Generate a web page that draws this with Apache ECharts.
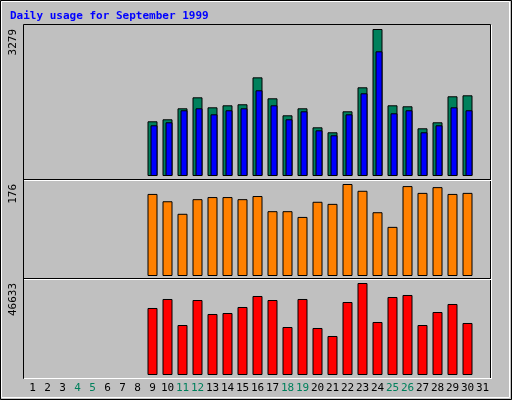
<!DOCTYPE html>
<html>
<head>
<meta charset="utf-8">
<script src="https://cdn.jsdelivr.net/npm/echarts@6/dist/echarts.min.js"></script>
<style>
  html, body { margin: 0; padding: 0; background: #c0c0c0; }
  #chart { width: 512px; height: 400px; }
</style>
</head>
<body>
<div id="chart"></div>
<script>
// days of September 1999, weekend days drawn in green
var days = [];
for (var d = 1; d <= 31; d++) days.push(String(d));
var weekends = ['4', '5', '11', '12', '18', '19', '25', '26'];

// hits and files (top panel)
var hits = [null,null,null,null,null,null,null,null,
    1220,1265,1510,1755,1532,1577,1600,2200,1733,1354,1510,1086,975,1443,1978,3279,1577,1555,1064,1198,1778,1800,null];
var files = [null,null,null,null,null,null,null,null,
    1131,1198,1466,1510,1376,1466,1510,1912,1577,1265,1443,1019,908,1376,1845,2781,1399,1466,975,1131,1532,1466,null];
// sites (middle panel)
var sites = [null,null,null,null,null,null,null,null,
    157,143,119,147,151,151,147,153,124,124,113,142,138,176,163,122,94,172,159,170,157,159,null];
// kbytes (bottom panel)
var kbytes = [null,null,null,null,null,null,null,null,
    33961,38523,25344,38016,30920,31426,34468,40044,38016,24330,38523,23824,19769,37002,46633,26865,39537,40551,25344,31933,35989,26358,null];

var maxHits = 3279, maxSites = 176, maxKb = 46633;

var chart = echarts.init(document.getElementById('chart'));

function yAx(grid, max) {
    return {
        gridIndex: grid, type: 'value', min: 0, max: max, interval: max,
        splitLine: { show: false }, axisLine: { show: false }, axisTick: { show: false },
        axisLabel: {
            rotate: 90, align: 'right', margin: 6,
            fontFamily: 'DejaVu Sans Mono', fontSize: 11, color: '#000',
            formatter: function (v) { return v === max ? String(max) : ''; }
        }
    };
}
function xAx(grid, show) {
    return {
        gridIndex: grid, type: 'category', data: days,
        axisLine: { show: false }, axisTick: { show: false },
        axisLabel: {
            show: show, interval: 0, margin: 8,
            fontFamily: 'DejaVu Sans Mono', fontSize: 11,
            formatter: function (v) { return weekends.indexOf(v) >= 0 ? '{w|' + v + '}' : v; },
            color: '#000',
            rich: { w: { color: '#00805c', fontFamily: 'DejaVu Sans Mono', fontSize: 11 } }
        }
    };
}
var barBorder = { borderColor: '#000', borderWidth: 1 };

var option = {
    backgroundColor: '#c0c0c0',
    animation: false,
    title: {
        text: 'Daily usage for September 1999', left: 5, top: 6,
        textStyle: { color: '#0000ff', fontFamily: 'DejaVu Sans Mono', fontSize: 11, fontWeight: 'bold' }
    },
    grid: [
        { left: 25, width: 465, top: 29, height: 147 },
        { left: 26.5, width: 465, top: 29, height: 147 },
        { left: 25, width: 465, top: 184, height: 92 },
        { left: 25, width: 465, top: 283, height: 92 }
    ],
    xAxis: [xAx(0, false), xAx(1, false), xAx(2, false), xAx(3, true)],
    yAxis: [yAx(0, maxHits), Object.assign(yAx(1, maxHits), { axisLabel: { show: false } }), yAx(2, maxSites), yAx(3, maxKb)],
    series: [
        { name: 'Hits', type: 'bar', xAxisIndex: 0, yAxisIndex: 0, data: hits, barWidth: 10,
          itemStyle: Object.assign({ color: '#00805c' }, barBorder) },
        { name: 'Files', type: 'bar', xAxisIndex: 1, yAxisIndex: 1, data: files, barWidth: 7,
          itemStyle: Object.assign({ color: '#0000ff' }, barBorder) },
        { name: 'Sites', type: 'bar', xAxisIndex: 2, yAxisIndex: 2, data: sites, barWidth: 10,
          itemStyle: Object.assign({ color: '#ff8000' }, barBorder) },
        { name: 'KBytes', type: 'bar', xAxisIndex: 3, yAxisIndex: 3, data: kbytes, barWidth: 10,
          itemStyle: Object.assign({ color: '#ff0000' }, barBorder) }
    ],
    graphic: [
        // window frame
        { type: 'rect', shape: { x: 0.5, y: 0.5, width: 511, height: 399 }, style: { fill: 'none', stroke: '#000', lineWidth: 1 }, z: 10 },
        { type: 'rect', shape: { x: 1.5, y: 1.5, width: 508, height: 396 }, style: { fill: 'none', stroke: '#fff', lineWidth: 1 }, z: 10 },
        { type: 'rect', shape: { x: 23.5, y: 24.5, width: 467, height: 354 }, style: { fill: 'none', stroke: '#000', lineWidth: 1 }, z: 10 },
        { type: 'line', shape: { x1: 24, y1: 378.5, x2: 491, y2: 378.5 }, style: { stroke: '#fff', lineWidth: 1 }, z: 10 },
        { type: 'line', shape: { x1: 491.5, y1: 25, x2: 491.5, y2: 379 }, style: { stroke: '#fff', lineWidth: 1 }, z: 10 },
        // panel separators
        { type: 'line', shape: { x1: 24, y1: 179.5, x2: 491, y2: 179.5 }, style: { stroke: '#000', lineWidth: 1 }, z: 10 },
        { type: 'line', shape: { x1: 24, y1: 180.5, x2: 491, y2: 180.5 }, style: { stroke: '#fff', lineWidth: 1 }, z: 10 },
        { type: 'line', shape: { x1: 24, y1: 278.5, x2: 491, y2: 278.5 }, style: { stroke: '#000', lineWidth: 1 }, z: 10 },
        { type: 'line', shape: { x1: 24, y1: 279.5, x2: 491, y2: 279.5 }, style: { stroke: '#fff', lineWidth: 1 }, z: 10 }
    ]
};
chart.setOption(option);
</script>
</body>
</html>
